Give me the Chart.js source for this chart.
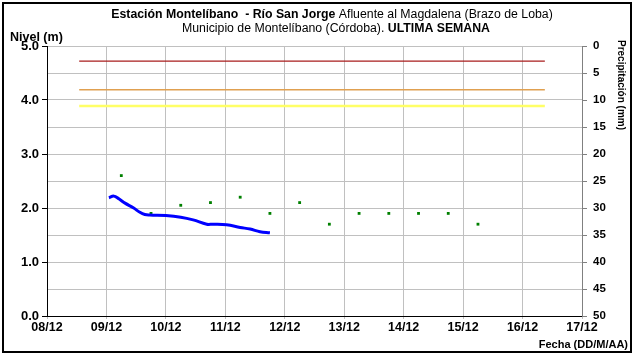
<!DOCTYPE html>
<html>
<head>
<meta charset="utf-8">
<script src="https://cdn.jsdelivr.net/npm/chart.js@4.4.1/dist/chart.umd.min.js"></script>
<style>
  body { margin: 0; background: #fff; }
  #wrap { position: relative; width: 634px; height: 356px; }
</style>
</head>
<body>
<div id="wrap"><canvas id="chart" width="634" height="356"></canvas></div>
<script>
// dates are DD/MM HH:MM, x axis counts days from 08/12 00:00
var dayLabels = ["08/12", "09/12", "10/12", "11/12", "12/12", "13/12", "14/12", "15/12", "16/12", "17/12"];

var levelTimes = ["09/12 01:00", "09/12 03:00", "09/12 05:00", "09/12 07:30", "09/12 11:00", "09/12 13:30",
  "09/12 15:30", "09/12 17:30", "10/12 00:00", "10/12 06:00", "10/12 11:00", "10/12 16:30",
  "10/12 19:00", "11/12 00:30", "11/12 06:00", "11/12 10:00", "11/12 14:00", "11/12 18:00"];
var levelValues = [2.19, 2.22, 2.17, 2.09, 2.00, 1.92, 1.88, 1.87, 1.86, 1.83, 1.78, 1.70,
  1.70, 1.69, 1.64, 1.61, 1.56, 1.54];

var rainTimes = ["09/12 06:00", "09/12 18:00", "10/12 06:00", "10/12 18:00", "11/12 06:00", "11/12 18:00",
  "12/12 06:00", "12/12 18:00", "13/12 06:00", "13/12 18:00", "14/12 06:00", "14/12 18:00", "15/12 06:00"];
var rainValues = [24, 31, 29.5, 29, 28, 31, 29, 33, 31, 31, 31, 31, 33];

// alert levels (m), drawn from start to end
var alertStart = "08/12 13:00";
var alertEnd = "16/12 09:00";
var alertRed = 4.72;
var alertOrange = 4.19;
var alertYellow = 3.89;

function toDays(s) {
  var dd = parseInt(s.substr(0, 2), 10);
  var hh = parseInt(s.substr(6, 2), 10);
  var mi = parseInt(s.substr(9, 2), 10);
  return (dd - 8) + hh / 24 + mi / 1440;
}

function pairs(times, values) {
  var out = [];
  for (var i = 0; i < times.length; i++) {
    out.push({ x: toDays(times[i]), y: values[i] });
  }
  return out;
}

function alertLine(v) {
  return [{ x: toDays(alertStart), y: v }, { x: toDays(alertEnd), y: v }];
}

var FONT = "'Liberation Sans', Arial, sans-serif";

// titles and frame, drawn by hand because of mixed bold/normal text
var textPlugin = {
  id: 'texts',
  afterDraw: function (chart) {
    var ctx = chart.ctx;
    ctx.save();
    ctx.fillStyle = '#000';
    ctx.textBaseline = 'middle';

    function mixed(parts, cx, y) {
      var total = 0;
      parts.forEach(function (p) {
        ctx.font = (p.b ? 'bold ' : '') + '12.3px ' + FONT;
        p.w = ctx.measureText(p.t).width;
        total += p.w;
      });
      var x = cx - total / 2;
      ctx.textAlign = 'left';
      parts.forEach(function (p) {
        ctx.font = (p.b ? 'bold ' : '') + '12.3px ' + FONT;
        ctx.fillText(p.t, x, y);
        x += p.w;
      });
    }

    mixed([{ t: 'Estación Montelíbano  - Río San Jorge', b: true },
           { t: ' Afluente al Magdalena (Brazo de Loba)', b: false }], 332, 15);
    mixed([{ t: 'Municipio de Montelíbano (Córdoba). ', b: false },
           { t: 'ULTIMA SEMANA', b: true }], 336, 29);

    ctx.font = 'bold 12.5px ' + FONT;
    ctx.textAlign = 'left';
    ctx.fillText('Nivel (m)', 10, 38);

    ctx.font = 'bold 11px ' + FONT;
    ctx.textAlign = 'right';
    ctx.fillText('Fecha (DD/M/AA)', 628, 345);

    ctx.save();
    ctx.translate(621, 40);
    ctx.rotate(Math.PI / 2);
    ctx.font = 'bold 10px ' + FONT;
    ctx.textAlign = 'left';
    ctx.fillText('Precipitación (mm)', 0, 0);
    ctx.restore();

    ctx.strokeStyle = '#000';
    ctx.lineWidth = 2;
    ctx.strokeRect(3, 3, 628, 349);
    ctx.restore();
  }
};

new Chart(document.getElementById('chart'), {
  type: 'line',
  data: {
    datasets: [
      {
        label: 'Nivel',
        data: pairs(levelTimes, levelValues),
        yAxisID: 'y',
        borderColor: '#0000ff',
        borderWidth: 3,
        pointRadius: 0,
        tension: 0.4,
        fill: false
      },
      {
        label: 'Precipitación',
        data: pairs(rainTimes, rainValues),
        yAxisID: 'y2',
        showLine: false,
        pointRadius: 2,
        pointStyle: 'rect',
        backgroundColor: '#008000',
        borderColor: '#008000',
        borderWidth: 0
      },
      {
        label: 'Alerta roja',
        data: alertLine(alertRed),
        yAxisID: 'y',
        borderColor: '#a81c1c',
        borderWidth: 1.3,
        pointRadius: 0
      },
      {
        label: 'Alerta naranja',
        data: alertLine(alertOrange),
        yAxisID: 'y',
        borderColor: '#e0a050',
        borderWidth: 1.3,
        pointRadius: 0
      },
      {
        label: 'Alerta amarilla',
        data: alertLine(alertYellow),
        yAxisID: 'y',
        borderColor: '#ffff66',
        borderWidth: 2.5,
        pointRadius: 0
      }
    ]
  },
  options: {
    responsive: false,
    animation: false,
    layout: { padding: { top: 46, left: 0, right: 0, bottom: 0 } },
    plugins: { legend: { display: false }, tooltip: { enabled: false } },
    scales: {
      x: {
        type: 'linear',
        min: 0,
        max: 9,
        afterFit: function (s) { s.height = 40; },
        ticks: {
          stepSize: 1,
          padding: 1,
          maxRotation: 0,
          autoSkip: false,
          color: '#000',
          font: { family: FONT, size: 12.5, weight: 'bold' },
          callback: function (v) { return dayLabels[v] || ''; }
        },
        grid: { color: '#c0c0c0', tickLength: 3, tickColor: '#c0c0c0' },
        border: { color: '#000', width: 1 }
      },
      y: {
        position: 'left',
        min: 0,
        max: 5,
        afterFit: function (s) { s.width = 47; },
        ticks: {
          stepSize: 0.5,
          padding: 3,
          color: '#000',
          font: { family: FONT, size: 13, weight: 'bold' },
          callback: function (v) { return v % 1 === 0 ? v.toFixed(1) : ''; }
        },
        grid: {
          color: '#c0c0c0',
          tickLength: 5,
          tickColor: function (c) {
            return c.tick && c.tick.value % 1 === 0 ? '#000' : 'rgba(0,0,0,0)';
          }
        },
        border: { color: '#000', width: 1 }
      },
      y2: {
        position: 'right',
        reverse: true,
        min: 0,
        max: 50,
        afterFit: function (s) { s.width = 52; },
        ticks: {
          stepSize: 5,
          padding: 6,
          color: '#000',
          font: { family: FONT, size: 11.5, weight: 'bold' }
        },
        grid: { drawOnChartArea: false, tickLength: 5, tickColor: '#808080' },
        border: { color: '#808080', width: 1 }
      }
    }
  },
  plugins: [textPlugin]
});
</script>
</body>
</html>
